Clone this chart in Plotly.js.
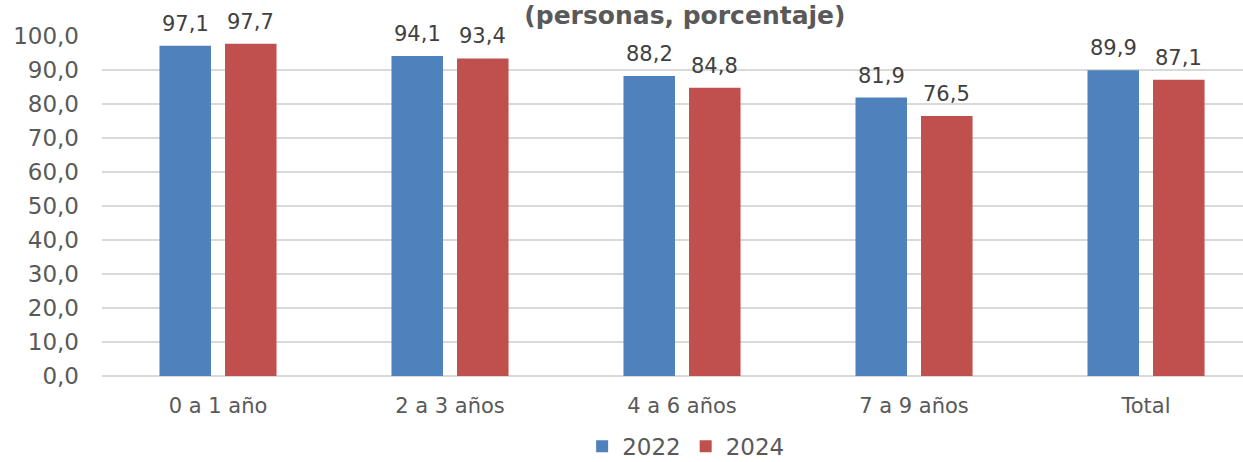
<!DOCTYPE html>
<html>
<head>
<meta charset="utf-8">
<script src="https://cdn.plot.ly/plotly-3.0.1.min.js"></script>
<style>html,body{margin:0;padding:0;background:#fff;}#chart{width:1243px;height:462px;}</style>
</head>
<body>
<div id="chart"></div>
<script>
const categories = ["0 a 1 año", "2 a 3 años", "4 a 6 años", "7 a 9 años", "Total"];
const values2022 = [97.1, 94.1, 88.2, 81.9, 89.9];
const values2024 = [97.7, 93.4, 84.8, 76.5, 87.1];
const seriesNames = ["2022", "2024"];
const yTicks = [0, 10, 20, 30, 40, 50, 60, 70, 80, 90, 100];

const fmt = v => v.toFixed(1).replace('.', ',');
const font = "DejaVu Sans, Verdana, sans-serif";

function trace(name, vals, color) {
  return {
    type: 'bar', name: name, x: categories, y: vals,
    marker: {color: color},
    hoverinfo: 'skip'
  };
}

const data = [
  trace(seriesNames[0], values2022, '#4f81bd'),
  trace(seriesNames[1], values2024, '#c0504d')
];

const annotations = [];
[[values2022, -32.75], [values2024, 32.75]].forEach(([vals, dx]) => {
  vals.forEach((v, i) => {
    annotations.push({
      x: categories[i], y: v, xref: 'x', yref: 'y', text: fmt(v), showarrow: false,
      xshift: dx, yshift: 8, yanchor: 'bottom', xanchor: 'center',
      font: {family: font, size: 21, color: '#404040'}
    });
  });
});

const layout = {
  width: 1243, height: 462,
  margin: {l: 102, r: 0, t: 36, b: 86},
  paper_bgcolor: '#fff', plot_bgcolor: '#fff',
  title: {text: '<b>(personas, porcentaje)</b>', xref: 'container', yref: 'container',
          x: 0.551, xanchor: 'center', y: 0.966, yanchor: 'middle',
          font: {family: font, size: 25, color: '#595959'}},
  barmode: 'group', bargap: 0.435, bargroupgap: 0.214,
  xaxis: {range: [-0.5, 4.418], showgrid: false, zeroline: false, showline: false,
          tickfont: {family: font, size: 21, color: '#595959'}, ticks: '', ticklabelstandoff: 15},
  yaxis: {range: [0, 100], tickvals: yTicks, ticktext: yTicks.map(fmt),
          showgrid: true, gridcolor: '#d9d9d9', gridwidth: 2,
          zeroline: true, zerolinecolor: '#d9d9d9', zerolinewidth: 2,
          tickfont: {family: font, size: 23, color: '#595959'}, ticks: '', ticklabelstandoff: 22},
  annotations: annotations,
  showlegend: true,
  legend: {orientation: 'h', xref: 'container', yref: 'container', x: 0.552, xanchor: 'center', y: 0.034, yanchor: 'middle',
           font: {family: font, size: 23, color: '#595959'}, itemwidth: 30, traceorder: 'normal'}
};

Plotly.newPlot('chart', data, layout, {displayModeBar: false, staticPlot: true});
</script>
</body>
</html>
